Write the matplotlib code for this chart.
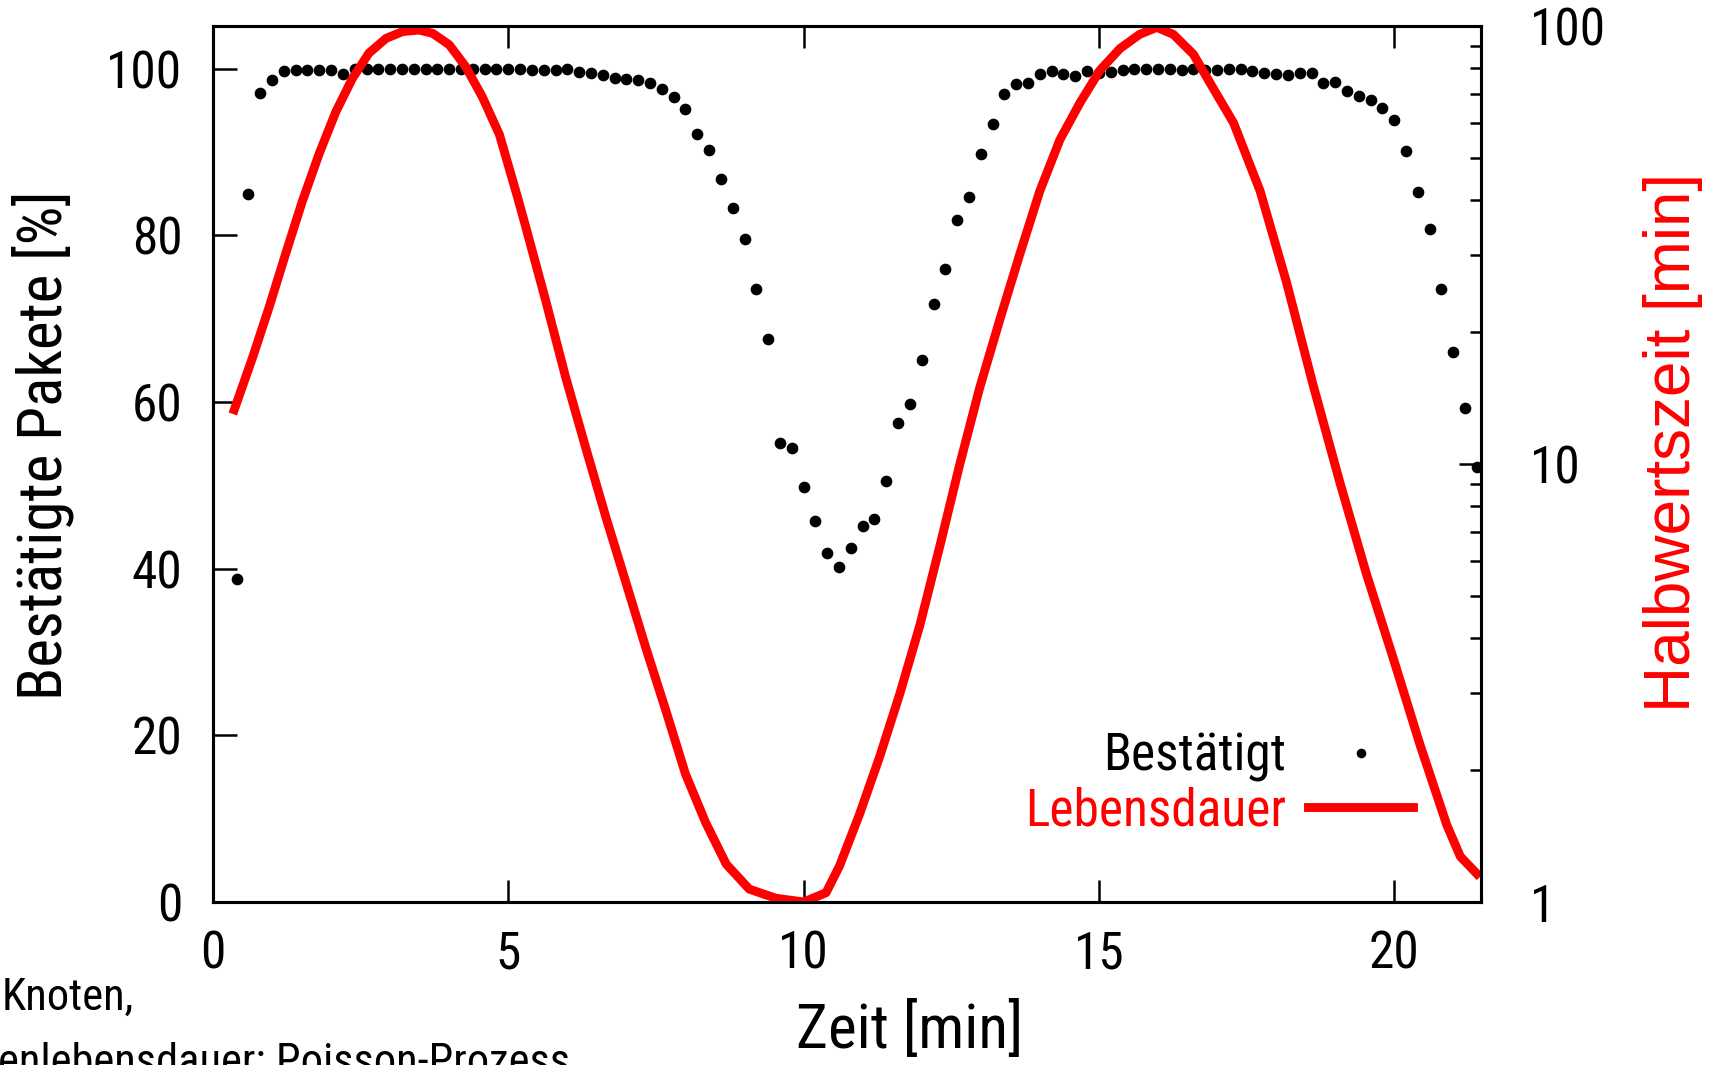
import matplotlib
matplotlib.use("Agg")
import matplotlib.pyplot as plt
from matplotlib import transforms
from matplotlib.ticker import FixedLocator, NullFormatter

# acknowledged packets [%], one sample every 0.2 min
zeit_punkte = [
    0.4, 0.6, 0.8, 1.0, 1.2, 1.4, 1.6, 1.8, 2.0, 2.2, 2.4, 2.6, 2.8, 3.0, 3.2, 3.4,
    3.6, 3.8, 4.0, 4.2, 4.4, 4.6, 4.8, 5.0, 5.2, 5.4, 5.6, 5.8, 6.0, 6.2, 6.4, 6.6,
    6.8, 7.0, 7.2, 7.4, 7.6, 7.8, 8.0, 8.2, 8.4, 8.6, 8.8, 9.0, 9.2, 9.4, 9.6, 9.8,
    10.0, 10.2, 10.4, 10.6, 10.8, 11.0, 11.2, 11.4, 11.6, 11.8, 12.0, 12.2, 12.4, 12.6,
    12.8, 13.0, 13.2, 13.4, 13.6, 13.8, 14.0, 14.2, 14.4, 14.6, 14.8, 15.0, 15.2, 15.4,
    15.6, 15.8, 16.0, 16.2, 16.4, 16.6, 16.8, 17.0, 17.2, 17.4, 17.6, 17.8, 18.0, 18.2,
    18.4, 18.6, 18.8, 19.0, 19.2, 19.4, 19.6, 19.8, 20.0, 20.2, 20.4, 20.6, 20.8, 21.0,
    21.2, 21.4,
]
bestaetigt = [
    38.7, 84.9, 97.1, 98.6, 99.7, 99.8, 99.8, 99.8, 99.8, 99.4, 99.9, 100.0, 100.0, 100.0, 100.0, 100.0,
    100.0, 100.0, 100.0, 99.9, 99.9, 99.9, 99.9, 99.9, 99.9, 99.8, 99.8, 99.8, 99.9, 99.6, 99.5, 99.2,
    98.9, 98.8, 98.6, 98.3, 97.5, 96.6, 95.1, 92.2, 90.2, 86.8, 83.3, 79.5, 73.5, 67.6, 55.1, 54.5,
    49.8, 45.7, 41.9, 40.2, 42.5, 45.1, 45.9, 50.5, 57.5, 59.7, 65.0, 71.8, 75.9, 81.8,
    84.6, 89.7, 93.3, 96.9, 98.1, 98.3, 99.4, 99.7, 99.3, 99.1, 99.7, 99.5, 99.6, 99.8,
    99.9, 99.9, 99.9, 100.0, 99.8, 99.9, 99.8, 99.8, 99.9, 99.9, 99.7, 99.5, 99.4, 99.2,
    99.5, 99.5, 98.3, 98.4, 97.3, 96.7, 96.2, 95.3, 93.8, 90.1, 85.2, 80.7, 73.6, 66.0,
    59.3, 52.2,
]

# half-life [min], right log axis
zeit_linie = [
    0.36, 0.67, 0.95, 1.23, 1.51, 1.80, 2.08, 2.36, 2.64, 2.93, 3.21, 3.49, 3.72, 4.00,
    4.28, 4.56, 4.85, 5.16, 5.29, 5.63, 5.97, 6.31, 6.65, 6.99, 7.33, 7.67, 8.00, 8.34,
    8.69, 9.08, 9.53, 10.0, 10.38, 10.61, 10.95, 11.29, 11.63, 11.97, 12.31, 12.64,
    12.98, 13.32, 13.66, 14.00, 14.34, 14.68, 15.02, 15.36, 15.69, 15.98, 16.26, 16.60,
    16.94, 17.28, 17.73, 18.18, 18.63, 19.08, 19.53, 19.99, 20.44, 20.89, 21.12, 21.40,
]
halbwertszeit = [
    13.3, 17.5, 22.8, 30.2, 39.7, 51.2, 63.7, 75.9, 86.7, 93.7, 97.1, 97.9, 96.2, 90.6,
    80.7, 68.9, 56.5, 40.5, 35.0, 23.7, 15.8, 10.9, 7.58, 5.37, 3.80, 2.73, 1.96, 1.52,
    1.22, 1.07, 1.02, 1.0, 1.05, 1.21, 1.59, 2.15, 2.99, 4.29, 6.52, 9.93,
    14.9, 21.3, 30.1, 42.0, 55.0, 66.8, 79.3, 88.9, 95.7, 99.3, 95.7, 86.2,
    71.9, 60.1, 42.0, 25.9, 15.1, 9.08, 5.61, 3.58, 2.28, 1.50, 1.27, 1.16,
]

x_ticks = [0, 5, 10, 15, 20]
y_ticks = [0, 20, 40, 60, 80, 100]
y2_ticks = [1, 10, 100]
y2_minor = [2, 3, 4, 5, 6, 7, 8, 9, 20, 30, 40, 50, 60, 70, 80, 90]

NARROW = ["Roboto Condensed", "DejaVu Sans"]
WIDE = ["Liberation Sans", "DejaVu Sans"]
plt.rcParams["font.family"] = NARROW

W, H = 1713, 1065
fig = plt.figure(figsize=(W / 100, H / 100), dpi=100)
ax = fig.add_axes([213 / W, (H - 902) / H, (1481 - 213) / W, (902 - 26) / H])
ax2 = ax.twinx()

ax.plot(zeit_punkte, bestaetigt, linestyle="none", marker="o", markersize=7.4,
        color="black", label="Bestätigt", zorder=3)

# faint dark shadow under the red curve, as in the original
shadow = transforms.offset_copy(ax2.transData, fig=fig, x=2, y=-1, units="dots")
ax2.plot(zeit_linie, halbwertszeit, color="#555555", linewidth=1.2,
         transform=shadow, zorder=1)
ax2.plot(zeit_linie, halbwertszeit, color="red", linewidth=6.4,
         solid_joinstyle="round", label="Lebensdauer", zorder=2)

ax.set_xlim(0, 21.47)
ax.set_ylim(0, 105.1)
ax2.set_yscale("log")
ax2.set_ylim(1, 100)

ax.set_xticks(x_ticks)
ax.set_yticks(y_ticks)
ax.set_xticklabels([str(v) for v in x_ticks])
ax.set_yticklabels([str(v) for v in y_ticks])
ax.tick_params(axis="x", direction="in", length=16, width=1.8, top=True,
               labelsize=37, pad=20)
ax.tick_params(axis="y", direction="in", length=17, width=1.8, right=False,
               labelsize=37, pad=22)

ax2.yaxis.set_major_locator(FixedLocator(y2_ticks))
ax2.yaxis.set_minor_locator(FixedLocator(y2_minor))
ax2.yaxis.set_minor_formatter(NullFormatter())
ax2.set_yticklabels([str(v) for v in y2_ticks])
ax2.tick_params(axis="y", which="major", direction="in", length=16, width=1.8,
                labelsize=37, pad=35)
ax2.tick_params(axis="y", which="minor", direction="in", length=8, width=1.8)

for a in (ax, ax2):
    for s in a.spines.values():
        s.set_linewidth(2.2)

ax2.set_zorder(ax.get_zorder() + 1)
ax2.patch.set_visible(False)

# axis titles (gnuplot-style placement)
fig.text(62 / W, 1 - 445 / H, "Bestätigte Pakete [%]", rotation=90,
         rotation_mode="anchor", ha="center", va="baseline", fontsize=44)
fig.text(1690 / W, 1 - 442 / H, "Halbwertszeit [min]", rotation=90,
         rotation_mode="anchor", ha="center", va="baseline", fontsize=46,
         color="red", family=WIDE)
fig.text(910 / W, 1 - 1048 / H, "Zeit [min]", ha="center", va="baseline",
         fontsize=44)

# text cut off at the lower-left edge of the slide
fig.text(2 / W, 1 - 1010 / H, "Knoten,", ha="left", va="baseline", fontsize=32)
fig.text(-2 / W, 1 - 1075 / H, "enlebensdauer: Poisson-Prozess", ha="left",
         va="baseline", fontsize=32)

h1, l1 = ax.get_legend_handles_labels()
h2, l2 = ax2.get_legend_handles_labels()
ax2.legend(h1 + h2, l1 + l2, loc="lower right", bbox_to_anchor=(0.9464, 0.0753),
           frameon=False, markerfirst=False, fontsize=37, handlelength=2.04,
           handletextpad=0.43, labelspacing=0.07, borderpad=0, borderaxespad=0,
           labelcolor=["black", "red"], markerscale=0.8)

fig.savefig("out.png", dpi=100)
